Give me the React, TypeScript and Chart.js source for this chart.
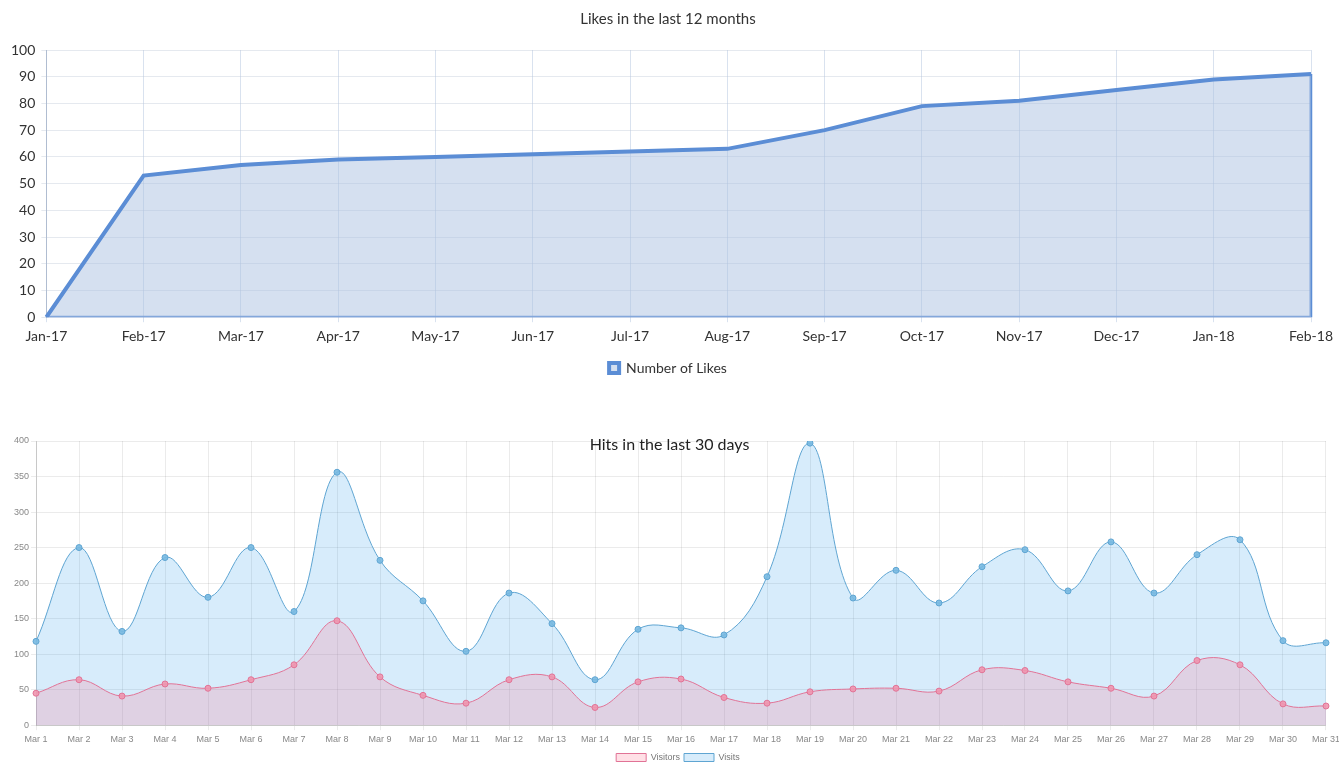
import React, { useEffect, useRef } from "react";
import { Chart, registerables } from "chart.js";

Chart.register(...registerables);

const months = ["Jan-17", "Feb-17", "Mar-17", "Apr-17", "May-17", "Jun-17", "Jul-17", "Aug-17", "Sep-17", "Oct-17", "Nov-17", "Dec-17", "Jan-18", "Feb-18"];
const likes = [0, 53, 57, 59, 60, 61, 62, 63, 70, 79, 81, 85, 89, 91];
const likesTicks = [0, 10, 20, 30, 40, 50, 60, 70, 80, 90, 100];

const days = ["Mar 1", "Mar 2", "Mar 3", "Mar 4", "Mar 5", "Mar 6", "Mar 7", "Mar 8", "Mar 9", "Mar 10", "Mar 11", "Mar 12", "Mar 13", "Mar 14", "Mar 15", "Mar 16", "Mar 17", "Mar 18", "Mar 19", "Mar 20", "Mar 21", "Mar 22", "Mar 23", "Mar 24", "Mar 25", "Mar 26", "Mar 27", "Mar 28", "Mar 29", "Mar 30", "Mar 31"];
const visitors = [45, 64, 41, 58, 52, 64, 85, 147, 68, 42, 31, 64, 68, 25, 61, 65, 39, 31, 47, 51, 52, 48, 78, 77, 61, 52, 41, 91, 85, 30, 27];
const visits = [118, 250, 132, 236, 180, 250, 160, 356, 232, 175, 104, 186, 143, 64, 135, 137, 127, 209, 397, 179, 218, 172, 223, 247, 189, 258, 186, 240, 261, 119, 116];

const calibriLike = "Lato, 'Open Sans', sans-serif";
const arialLike = "'Liberation Sans', Arial, Helvetica, sans-serif";

function LikesChart() {
  const ref = useRef<HTMLCanvasElement | null>(null);
  useEffect(() => {
    if (!ref.current) return;
    const last = months[months.length - 1];
    const first = months[0];
    const chart = new Chart(ref.current, {
      type: "line",
      data: {
        labels: months,
        datasets: [
          {
            label: "Number of Likes",
            data: likes,
            borderColor: "#5B8DD5",
            backgroundColor: "rgba(172,194,226,0.5)",
            borderWidth: 4,
            fill: "origin",
            tension: 0,
            pointRadius: 0,
          },
          {
            label: "outline",
            data: [
              { x: last, y: likes[likes.length - 1] },
              { x: last, y: 0 },
              { x: first, y: 0 },
            ] as any,
            borderColor: "#5B8DD5",
            backgroundColor: "rgba(0,0,0,0)",
            borderWidth: 3,
            fill: false,
            tension: 0,
            pointRadius: 0,
          },
        ],
      },
      options: {
        animation: false,
        responsive: true,
        maintainAspectRatio: false,
        layout: { padding: { left: 5, right: 8, top: 0, bottom: 4 } },
        plugins: {
          title: {
            display: true,
            text: "Likes in the last 12 months",
            color: "#333",
            font: { family: calibriLike, size: 15, weight: "normal" },
            padding: { top: 10, bottom: 22 },
          },
          legend: {
            position: "bottom",
            labels: {
              filter: (item) => item.text !== "outline",
              color: "#333",
              font: { family: calibriLike, size: 14 },
              boxWidth: 10,
              boxHeight: 10,
              padding: 10,
            },
          },
          tooltip: { enabled: false },
        },
        scales: {
          x: {
            grid: { color: "rgba(170,190,220,0.45)", tickLength: 5 },
            border: { display: false },
            ticks: { color: "#333", font: { family: calibriLike, size: 14 }, padding: 6, maxRotation: 0, autoSkip: false },
          },
          y: {
            min: likesTicks[0],
            max: likesTicks[likesTicks.length - 1],
            grid: { color: "rgba(190,200,215,0.4)", tickLength: 5 },
            border: { color: "rgba(150,165,190,0.6)" },
            ticks: { stepSize: 10, color: "#333", font: { family: calibriLike, size: 14 }, padding: 6 },
          },
        },
      },
    });
    return () => chart.destroy();
  }, []);
  return <canvas ref={ref} />;
}

function HitsChart() {
  const ref = useRef<HTMLCanvasElement | null>(null);
  useEffect(() => {
    if (!ref.current) return;
    const chart = new Chart(ref.current, {
      type: "line",
      data: {
        labels: days,
        datasets: [
          {
            label: "Visitors",
            data: visitors,
            borderColor: "rgba(225,115,150,1)",
            backgroundColor: "rgba(255,99,132,0.2)",
            pointBackgroundColor: "rgba(240,150,175,0.9)",
            pointBorderColor: "rgba(225,115,150,1)",
            borderWidth: 1,
            pointRadius: 3,
            fill: "origin",
            tension: 0.4,
          },
          {
            label: "Visits",
            data: visits,
            borderColor: "rgba(95,165,210,1)",
            backgroundColor: "rgba(54,162,235,0.2)",
            pointBackgroundColor: "rgba(120,185,225,0.9)",
            pointBorderColor: "rgba(95,165,210,1)",
            borderWidth: 1,
            pointRadius: 3,
            fill: "origin",
            tension: 0.4,
          },
        ],
      },
      options: {
        animation: false,
        responsive: true,
        maintainAspectRatio: false,
        layout: { padding: { left: 12, right: 0, top: 23, bottom: 0 } },
        plugins: {
          title: { display: false },
          legend: {
            position: "bottom",
            labels: {
              color: "#777",
              font: { family: arialLike, size: 9 },
              boxWidth: 30,
              boxHeight: 8,
              padding: 4,
            },
          },
          tooltip: { enabled: false },
        },
        scales: {
          x: {
            grid: { color: "rgba(0,0,0,0.08)", tickLength: 5 },
            border: { color: "rgba(0,0,0,0.15)" },
            ticks: { color: "#888", font: { family: arialLike, size: 9 }, padding: 4, maxRotation: 0, autoSkip: false },
          },
          y: {
            min: 0,
            max: 400,
            grid: { color: "rgba(0,0,0,0.08)", tickLength: 5 },
            border: { color: "rgba(0,0,0,0.15)" },
            ticks: { stepSize: 50, color: "#888", font: { family: arialLike, size: 9 }, padding: 2 },
          },
        },
      },
    });
    return () => chart.destroy();
  }, []);
  return <canvas ref={ref} />;
}

export default function App() {
  return (
    <div style={{ position: "absolute", left: 0, top: 0, width: 1339, height: 763, background: "#fff", overflow: "hidden" }}>
      <div style={{ position: "absolute", left: 0, top: 0, width: 1339, height: 389 }}>
        <LikesChart />
      </div>
      <div style={{ position: "absolute", left: 0, top: 418, width: 1344, height: 354 }}>
        <HitsChart />
      </div>
      <div
        style={{
          position: "absolute",
          left: 0,
          top: 434,
          width: 1339,
          textAlign: "center",
          fontFamily: calibriLike,
          fontSize: 16,
          lineHeight: "20px",
          color: "#222",
          pointerEvents: "none",
        }}
      >
        Hits in the last 30 days
      </div>
    </div>
  );
}
